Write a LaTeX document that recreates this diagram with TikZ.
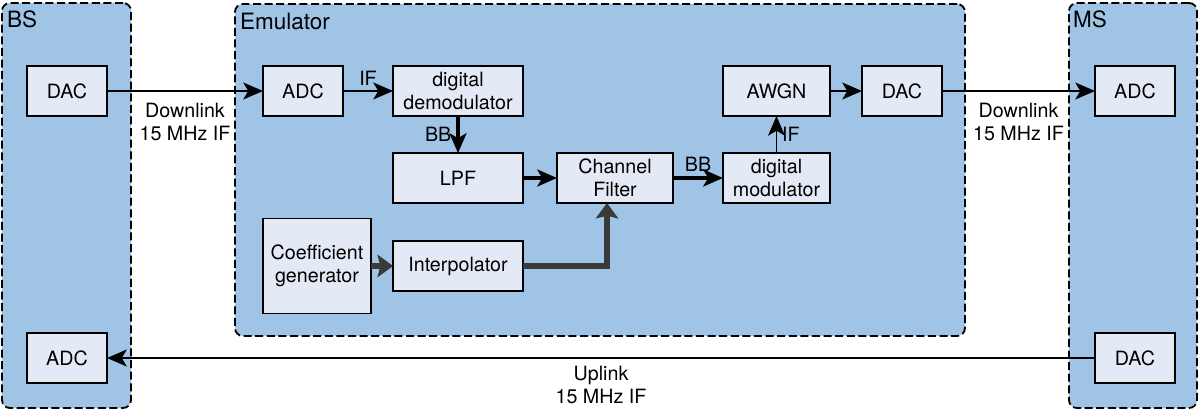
\documentclass[tikz,border=0pt]{standalone}
\usepackage{fontspec}
\setmainfont{TeX Gyre Heros}
\usetikzlibrary{arrows.meta,positioning,fit}
\definecolor{panelblue}{RGB}{160,196,230}
\definecolor{boxfill}{RGB}{227,234,245}
\definecolor{ctrlgray}{RGB}{58,58,58}

\begin{document}
\begin{tikzpicture}[->,>={Stealth[length=14pt,width=12pt,inset=3.5pt]},
      line width=1.4pt,
      block/.style={draw,fill=boxfill,line width=1.1pt,minimum width=2cm,
        minimum height=1.25cm,align=center,inner sep=1pt,outer sep=0pt,
        font=\fontsize{14}{16.5}\selectfont},
      wide/.style={minimum width=3.25cm},
      panel/.style={draw,fill=panelblue,line width=1.3pt,
        dash pattern=on 0.2cm off 0.09cm,rounded corners=0.2cm,inner sep=0pt},
      title/.style={font=\fontsize{16}{19}\selectfont,anchor=base west,inner sep=0pt},
      lbl/.style={font=\fontsize{14}{16.5}\selectfont,align=center},
      bb/.style={line width=2.8pt},
      ctrl/.style={draw=ctrlgray,line width=3.8pt,
        -{Stealth[length=11pt,width=16pt,inset=2pt]}}]
    \useasboundingbox (0,0) rectangle (30,-10.275);
    % the three units
    \node[panel,fit={(0.05,-0.075) (3.275,-10.2)}] (bs) {};
    \node[panel,fit={(5.875,-0.1) (24.125,-8.4)}] (emu) {};
    \node[panel,fit={(26.725,-0.075) (29.925,-10.2)}] (ms) {};
    \node[title] (bst) at ([shift={(0.125,-0.625)}]bs.north west) {BS};
    \node[title] (emut) at ([shift={(0.125,-0.65)}]emu.north west) {Emulator};
    \node[title] (mst) at ([shift={(0.1,-0.625)}]ms.north west) {MS};

    % blocks
    \node[block] (dacbs) at (1.675,-2.275) {DAC};
    \node[block] (adcem) [right=3.9cm of dacbs] {ADC};
    \node[block,wide] (demod) [right=1.25cm of adcem] {digital\\demodulator};
    \node[block,wide] (lpf) [below=0.925cm of demod] {LPF};
    \node[block,minimum width=2.9cm] (chf) [right=0.85cm of lpf] {Channel\\Filter};
    \node[block,minimum width=2.675cm] (mod) [right=1.25cm of chf] {digital\\modulator};
    \node[block,minimum width=2.675cm] (awgn) [above=0.925cm of mod] {AWGN};
    \node[block] (dacem) [right=0.8cm of awgn] {DAC};
    \node[block] (adcms) [right=3.825cm of dacem] {ADC};
    \node[block,wide] (interp) [below=0.95cm of lpf] {Interpolator};
    \node[block,minimum width=2.7cm,minimum height=2.375cm] (coef)
      [left=0.55cm of interp] {Coefficient\\generator};
    \node[block] (adcbs) [below=5.425cm of dacbs] {ADC};
    \node[block] (dacms) [below=5.425cm of adcms] {DAC};

    % signal path
    \path (dacbs) edge node[lbl,below=0.15cm] {Downlink\\15 MHz IF} (adcem)
    (adcem) edge node[lbl,above] {IF} (demod)
    (demod) edge[bb] node[lbl,left] {BB} (lpf)
    (lpf) edge[bb] (chf)
    (chf) edge[bb] node[lbl,above] {BB} (mod)
    (mod) edge node[lbl,right] {IF} (awgn)
    (awgn) edge (dacem)
    (dacem) edge node[lbl,below=0.15cm] {Downlink\\15 MHz IF} (adcms)
    (dacms) edge node[lbl,below=0.05cm] {Uplink\\15 MHz IF} (adcbs);

    % filter coefficients
    \draw[ctrl] (coef) -- (interp);
    \draw[ctrl] (interp.east) -| ([xshift=-0.2cm]chf.south);
  \end{tikzpicture}
\end{document}
